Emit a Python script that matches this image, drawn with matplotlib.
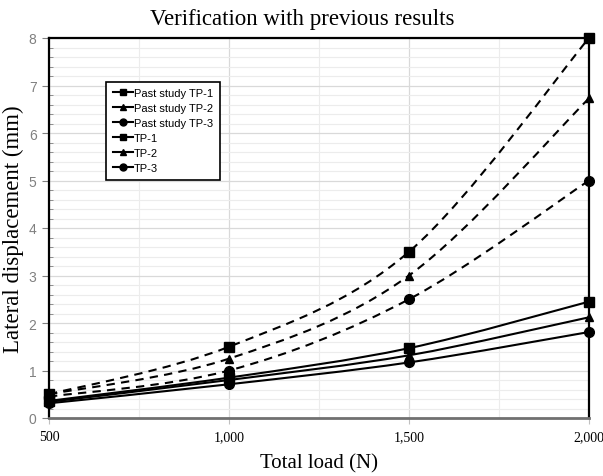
import numpy as np
import matplotlib
matplotlib.use('Agg')
import matplotlib.pyplot as plt
from matplotlib.path import Path
from matplotlib.patches import PathPatch
from matplotlib.lines import Line2D
from matplotlib.ticker import MultipleLocator, FuncFormatter

# Load steps (N) and lateral displacement (mm)
loads = [500, 1000, 1500, 2000]
past_tp1 = [0.50, 1.50, 3.50, 8.00]
past_tp2 = [0.50, 1.25, 3.00, 6.73]
past_tp3 = [0.45, 1.00, 2.50, 5.00]
tp1 = [0.36, 0.85, 1.47, 2.45]
tp2 = [0.34, 0.80, 1.32, 2.12]
tp3 = [0.31, 0.71, 1.17, 1.81]

series = [
    ('Past study TP-1', past_tp1, 's', '--'),
    ('Past study TP-2', past_tp2, '^', '--'),
    ('Past study TP-3', past_tp3, 'o', '--'),
    ('TP-1', tp1, 's', '-'),
    ('TP-2', tp2, '^', '-'),
    ('TP-3', tp3, 'o', '-'),
]
marker_size = {'s': 7, '^': 6, 'o': 7}

serif = 'Liberation Serif'


def smooth_path(x, y, t=1 / 6):
    # Catmull-Rom style cubic Bezier through the points (spreadsheet "smoothed line")
    x = np.asarray(x, float)
    y = np.asarray(y, float)
    verts = [(x[0], y[0])]
    codes = [Path.MOVETO]
    n = len(x)
    for i in range(n - 1):
        p0 = (x[i - 1], y[i - 1]) if i > 0 else (x[i], y[i])
        p1 = (x[i], y[i])
        p2 = (x[i + 1], y[i + 1])
        p3 = (x[i + 2], y[i + 2]) if i + 2 < n else (x[i + 1], y[i + 1])
        c1 = (p1[0] + (p2[0] - p0[0]) * t, p1[1] + (p2[1] - p0[1]) * t)
        c2 = (p2[0] - (p3[0] - p1[0]) * t, p2[1] - (p3[1] - p1[1]) * t)
        verts += [c1, c2, p2]
        codes += [Path.CURVE4] * 3
    return Path(verts, codes)


fig = plt.figure(figsize=(6.03, 4.77), dpi=100)
ax = fig.add_axes([49 / 603, 58 / 477, 540 / 603, 380 / 477])

handles = []
for label, vals, mk, ls in series:
    patch = PathPatch(smooth_path(loads, vals), facecolor='none', edgecolor='black',
                      lw=1.5, linestyle=(0, (4, 3)) if ls == '--' else '-', zorder=3,
                      clip_on=False)
    ax.add_patch(patch)
    ax.plot(loads, vals, linestyle='none', marker=mk, color='black',
            markersize=marker_size[mk], zorder=4, clip_on=False)
    handles.append(Line2D([], [], color='black', lw=1.5, marker=mk,
                          markersize=5, linestyle='-', label=label))

ax.set_xlim(500, 2000)
ax.set_ylim(0, 8)

ax.xaxis.set_major_locator(MultipleLocator(500))
ax.xaxis.set_minor_locator(MultipleLocator(250))
ax.yaxis.set_major_locator(MultipleLocator(1))
ax.yaxis.set_minor_locator(MultipleLocator(0.2))
ax.xaxis.set_major_formatter(FuncFormatter(lambda v, p: f'{int(v):,}'))

ax.grid(which='minor', color='#ececec', lw=0.8, zorder=0)
ax.grid(which='major', color='#d9d9d9', lw=0.9, zorder=0)
ax.set_axisbelow(True)

for s in ['left', 'top', 'right']:
    ax.spines[s].set_color('black')
    ax.spines[s].set_linewidth(1.6)
ax.spines['bottom'].set_color('#707070')
ax.spines['bottom'].set_linewidth(2.0)

ax.tick_params(axis='y', which='major', direction='out', length=5, width=0.8,
               color='#808080', labelcolor='#808080', labelsize=10, pad=4)
ax.tick_params(axis='y', which='minor', direction='in', length=3, width=0.6,
               color='#808080')
ax.tick_params(axis='x', which='major', direction='out', length=4, width=0.8,
               color='#c0c0c0', labelsize=10, pad=5)
ax.tick_params(axis='x', which='minor', length=0)
for lbl in ax.get_yticklabels():
    lbl.set_fontfamily('Liberation Sans')
for lbl in ax.get_xticklabels():
    lbl.set_fontfamily(serif)

ax.set_xlabel('Total load (N)', fontfamily=serif, fontsize=15, labelpad=7)
ax.set_ylabel('Lateral displacement (mm)', fontfamily=serif, fontsize=16.5, labelpad=3)
fig.suptitle('Verification with previous results', fontfamily=serif, fontsize=16.5,
             x=0.502, y=0.982)

leg = ax.legend(handles=handles, loc='upper left', bbox_to_anchor=(0.096, 0.9),
                prop={'family': 'Liberation Sans', 'size': 8}, frameon=True,
                fancybox=False, edgecolor='black', handlelength=1.8,
                handletextpad=0.1, labelspacing=0.45, borderpad=0.6)
leg.get_frame().set_linewidth(1.2)
leg.get_frame().set_alpha(1)

fig.savefig('out.png', dpi=100)
